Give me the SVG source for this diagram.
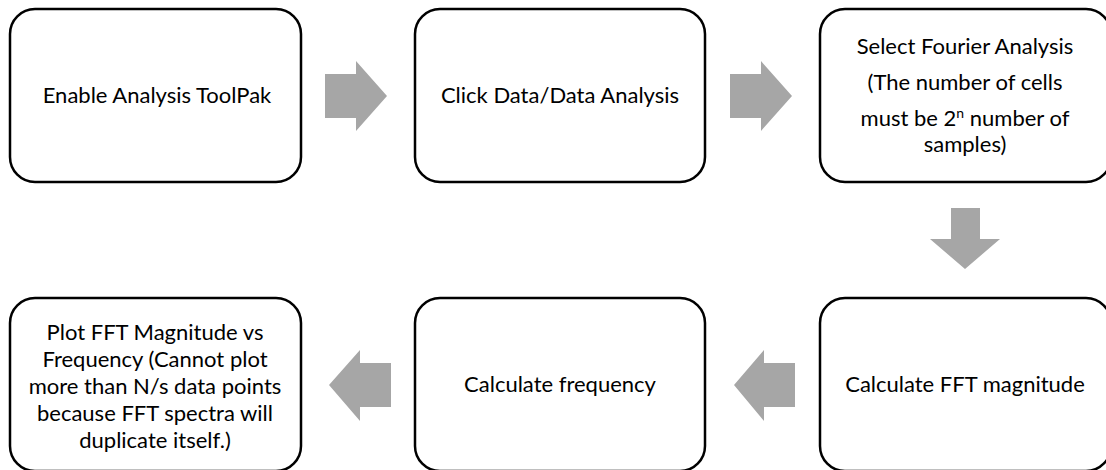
<svg xmlns="http://www.w3.org/2000/svg" width="1106" height="470" viewBox="0 0 1106 470">
<style>
.box{fill:#fff;stroke:#000;stroke-width:2.5}
.arr{fill:#a6a6a6;stroke:none}
text{font-family:Lato,"Liberation Sans",sans-serif;font-size:22px;fill:#000;text-anchor:middle}
</style>
<rect width="1106" height="470" fill="#fff"/>
<g id="connectors">
<polygon class="arr" points="325,74 356,74 356,61 387,96 356,131 356,118 325,118"/>
<polygon class="arr" points="730,74 761,74 761,61 792,96 761,131 761,118 730,118"/>
<polygon class="arr" points="951,208 980,208 980,239 1000,239 965,269 930,239 951,239"/>
<polygon class="arr" points="795,363 764,363 764,350 734,385 764,421 764,407 795,407"/>
<polygon class="arr" points="391,363 360,363 360,350 329,385 360,421 360,407 391,407"/>
</g>
<g id="n1"><rect class="box" x="10" y="9" width="291" height="173" rx="25"/><text x="157" y="103">Enable Analysis ToolPak</text></g>
<g id="n2"><rect class="box" x="415" y="9" width="290" height="173" rx="25"/><text x="560" y="103">Click Data/Data Analysis</text></g>
<g id="n3"><rect class="box" x="820" y="9" width="291" height="173" rx="25"/>
<text x="965" y="54">Select Fourier Analysis</text>
<text x="965" y="90">(The number of cells</text>
<text x="965" y="126">must be 2<tspan font-size="14" dy="-8">n</tspan><tspan dy="8"> number of</tspan></text>
<text x="965" y="152">samples)</text></g>
<g id="n6"><rect class="box" x="820" y="298" width="291" height="173" rx="25"/><text x="965" y="392">Calculate FFT magnitude</text></g>
<g id="n5"><rect class="box" x="415" y="298" width="290" height="173" rx="25"/><text x="560" y="392">Calculate frequency</text></g>
<g id="n4"><rect class="box" x="10" y="298" width="291" height="173" rx="25"/>
<text x="155" y="340">Plot FFT Magnitude vs</text>
<text x="155" y="367">Frequency (Cannot plot</text>
<text x="155" y="394">more than N/s data points</text>
<text x="155" y="421">because FFT spectra will</text>
<text x="155" y="448">duplicate itself.)</text></g>
</svg>
